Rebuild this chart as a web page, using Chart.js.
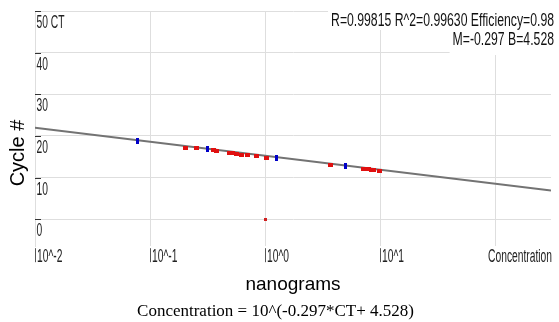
<!DOCTYPE html>
<html><head><meta charset="utf-8">
<script src="https://cdn.jsdelivr.net/npm/chart.js@4/dist/chart.umd.min.js"></script>
<style>html,body{margin:0;padding:0;background:#fff;} #wrap{width:559px;height:322px;position:relative;}</style>
</head><body><div id="wrap"><canvas id="c" width="559" height="322"></canvas></div>
<script>
// ---- data ----
const xTickValues = [0.01, 0.1, 1, 10, 100];
const xTickLabels = ['10^-2', '10^-1', '10^0', '10^1', ''];
const yTickValues = [0, 10, 20, 30, 40, 50];
const yTickLabels = ['0', '10', '20', '30', '40', '50 CT'];

const redConc = [0.204, 0.251, 0.356, 0.375, 0.490, 0.524, 0.567, 0.618, 0.697, 0.835, 1.02, 3.72, 7.19, 7.55, 7.94, 8.35, 8.77, 9.75];
const redCT   = [17.2, 17.05, 16.6, 16.4, 15.8, 15.8, 15.55, 15.5, 15.4, 15.05, 14.8, 13.0, 11.95, 11.95, 11.95, 11.9, 11.9, 11.5];
const blueConc = [0.0774, 0.315, 1.25, 4.97];
const blueCT   = [18.8, 16.8, 14.65, 12.7];
const outlierConc = [1.01];
const outlierCT   = [-0.2];
const fitConc = [0.01, 304];
const fitCT   = [21.98, 6.86];

const statsLine1 = 'R=0.99815 R^2=0.99630 Efficiency=0.98';
const statsLine2 = 'M=-0.297 B=4.528';
const axisEndLabel = 'Concentration';
const xTitle = 'nanograms';
const yTitle = 'Cycle #';
const formula = 'Concentration = 10^(-0.297*CT+ 4.528)';

// ---- styling ----
const SANS = '"Liberation Sans", Arial, sans-serif';
const SERIF = '"Liberation Serif", "Times New Roman", serif';
const GRID = '#dedede';
const TICK_FONT = '18px ' + SANS;
const TICK_SQUEEZE = 0.57;

function box(w, h, color) {
  const c = document.createElement('canvas');
  c.width = w; c.height = h;
  const g = c.getContext('2d');
  g.fillStyle = color; g.fillRect(0, 0, w, h);
  return c;
}
const redMark = box(5, 4, '#e01010');
const blueMark = box(3, 6, '#0000c8');
const smallRed = box(3, 3, '#d02020');

const pts = (xs, ys) => xs.map((x, i) => ({x: x, y: ys[i]}));

function squeezed(ctx, text, x, y, align, sx) {
  ctx.save();
  ctx.translate(x, y);
  ctx.scale(sx, 1);
  ctx.textAlign = align;
  ctx.fillText(text, 0, 0);
  ctx.restore();
}

const overlay = {
  id: 'overlay',
  afterDraw(chart) {
    const ctx = chart.ctx, ca = chart.chartArea;
    const xs = chart.scales.x, ys = chart.scales.y;
    ctx.save();
    ctx.lineWidth = 1;
    ctx.textBaseline = 'alphabetic';
    // y tick labels + short dashes (inside the plot)
    ys.ticks.forEach(t => {
      const py = Math.round(ys.getPixelForValue(t.value)) + 0.5;
      ctx.strokeStyle = '#333';
      ctx.beginPath(); ctx.moveTo(ca.left, py); ctx.lineTo(ca.left + 6, py); ctx.stroke();
      ctx.fillStyle = '#222';
      ctx.font = TICK_FONT;
      squeezed(ctx, yTickLabels[yTickValues.indexOf(t.value)] || '', ca.left + 1.5, py + 16.5, 'left', TICK_SQUEEZE);
    });
    // x tick labels with short vertical marks
    xs.ticks.forEach(t => {
      const lbl = xTickLabels[xTickValues.indexOf(t.value)] || '';
      if (!lbl) return;
      const px = Math.round(xs.getPixelForValue(t.value)) + 0.5;
      ctx.strokeStyle = '#555';
      ctx.beginPath(); ctx.moveTo(px, ca.bottom + 2); ctx.lineTo(px, ca.bottom + 16); ctx.stroke();
      ctx.fillStyle = '#222';
      ctx.font = TICK_FONT;
      squeezed(ctx, lbl, px + 1.5, ca.bottom + 15.5, 'left', TICK_SQUEEZE);
    });
    // axis end label
    ctx.font = TICK_FONT;
    ctx.fillStyle = '#222';
    squeezed(ctx, axisEndLabel, ca.right + 1, ca.bottom + 15.5, 'right', TICK_SQUEEZE);
    // stats text with white background
    ctx.font = '18px ' + SANS;
    const sx = 0.68;
    const rx = ca.right + 3;
    const w1 = ctx.measureText(statsLine1).width * sx;
    const w2 = ctx.measureText(statsLine2).width * sx;
    ctx.fillStyle = '#fff';
    ctx.fillRect(rx - w1 - 3, 6, w1 + 5, 24);
    ctx.fillRect(rx - w2 - 3, 30, w2 + 5, 25);
    ctx.fillStyle = '#111';
    squeezed(ctx, statsLine1, rx, 26, 'right', sx);
    squeezed(ctx, statsLine2, rx, 45, 'right', sx);
    // y axis title
    ctx.save();
    ctx.translate(18, 153);
    ctx.rotate(-Math.PI / 2);
    ctx.font = '20px ' + SANS;
    ctx.fillStyle = '#000';
    ctx.textAlign = 'center';
    ctx.textBaseline = 'middle';
    ctx.fillText(yTitle, 0, 0);
    ctx.restore();
    ctx.restore();
  }
};

new Chart(document.getElementById('c'), {
  type: 'scatter',
  data: {
    datasets: [
      {label: 'fit', data: pts(fitConc, fitCT), showLine: true, borderColor: '#737373', borderWidth: 2, pointRadius: 0, order: 4},
      {label: 'unknowns', data: pts(redConc, redCT), pointStyle: redMark, order: 2},
      {label: 'outlier', data: pts(outlierConc, outlierCT), pointStyle: smallRed, order: 3},
      {label: 'standards', data: pts(blueConc, blueCT), pointStyle: blueMark, order: 1}
    ]
  },
  options: {
    responsive: false,
    animation: false,
    devicePixelRatio: 1,
    layout: {padding: {top: 11, right: 8, left: 0, bottom: 0}},
    plugins: {
      legend: {display: false},
      tooltip: {enabled: false},
      subtitle: {
        display: true, position: 'bottom', text: formula, color: '#000',
        font: {family: SERIF, size: 17, weight: 'normal'},
        padding: {top: 5.4, bottom: 0}
      }
    },
    scales: {
      x: {
        type: 'logarithmic', min: 0.01, max: 304,
        afterBuildTicks: s => { s.ticks = xTickValues.map(v => ({value: v})); },
        afterFit: s => { s.height = 50; },
        grid: {color: GRID, drawTicks: false, lineWidth: 1},
        border: {display: false},
        ticks: {display: false, autoSkip: false, maxRotation: 0, minRotation: 0},
        title: {display: true, text: xTitle, color: '#000', font: {family: SANS, size: 19}, padding: {top: 0, bottom: 0}}
      },
      y: {
        min: -6.5, max: 50,
        afterBuildTicks: s => { s.ticks = yTickValues.map(v => ({value: v})); },
        afterFit: s => { s.width = 35; },
        grid: {color: GRID, drawTicks: false, lineWidth: 1},
        border: {display: true, color: GRID},
        ticks: {display: false},
        title: {display: false}
      }
    }
  },
  plugins: [overlay]
});
</script>
</body></html>
